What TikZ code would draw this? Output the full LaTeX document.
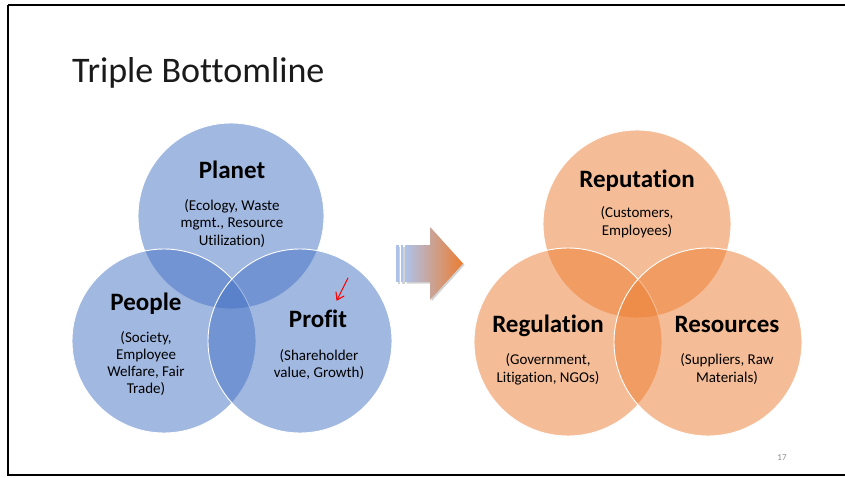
\documentclass[tikz,border=0pt]{standalone}
\usepackage{fontspec}
\setmainfont{Carlito}[Ligatures={NoCommon}]
\usetikzlibrary{shadows}
\definecolor{blueacc}{HTML}{4472C4}
\definecolor{orangeacc}{HTML}{ED7D31}
\definecolor{arrowblue}{HTML}{ADC2E8}
\definecolor{pgnum}{HTML}{8C8C8C}
\definecolor{titlecol}{HTML}{1A1A1A}
\tikzset{
  vblue/.style={fill=blueacc, fill opacity=0.5, draw=white, line width=0.9pt},
  vorange/.style={fill=orangeacc, fill opacity=0.5, draw=white, line width=0.9pt},
  headtxt/.style={font=\fontsize{25}{30}\selectfont\bfseries, anchor=base, inner sep=0pt},
  subtxt/.style={font=\fontsize{15}{18}\selectfont, anchor=base, inner sep=0pt},
}
\begin{document}
\begin{tikzpicture}[x=1pt,y=-1pt]
\useasboundingbox (0,0) rectangle (845,478);
\fill[white] (0,0) rectangle (845,478);
% slide frame
\draw[line width=2pt, black] (8,5) -- (850,5);
\draw[line width=2pt, black] (8,5) -- (8,475) -- (850,475);
% title
\node[anchor=base west, inner sep=0pt, text=titlecol, font=\fontsize{36}{43}\selectfont] (title) at (72,83) {Triple Bottomline};
% left venn
\path[vblue] (231,216) circle (93);
\path[vblue] (164,341) circle (92);
\path[vblue] (300,341) circle (92);
\node[headtxt] (planet) at (232,179) {Planet};
\node[subtxt] (pl1) at (232,211) {(Ecology, Waste};
\node[subtxt] (pl2) at (232,228) {mgmt., Resource};
\node[subtxt] (pl3) at (232,245) {Utilization)};
\node[headtxt] (people) at (146,310) {People};
\node[subtxt] (pe1) at (146,342) {(Society,};
\node[subtxt] (pe2) at (146,359) {Employee};
\node[subtxt] (pe3) at (146,376) {Welfare, Fair};
\node[subtxt] (pe4) at (146,393) {Trade)};
\node[headtxt] (profit) at (318,327) {Profit};
\node[subtxt] (pr1) at (319,360) {(Shareholder};
\node[subtxt] (pr2) at (319,377) {value, Growth)};
% red annotation arrow
\coordinate (ra) at (348,278);
\coordinate (rb) at (337,300);
\draw[red, line width=1.1pt, line cap=round] (ra) -- (rb);
\draw[red, line width=1.1pt, line cap=round, line join=round] (336,292) -- (rb) -- (344,296);
% middle arrow
\fill[arrowblue, drop shadow={opacity=0.35, shadow xshift=1.5pt, shadow yshift=-1.5pt}] (396,245) rectangle (398.5,282);
\fill[arrowblue, drop shadow={opacity=0.35, shadow xshift=1.5pt, shadow yshift=-1.5pt}] (400.5,245) rectangle (403,282);
\shade[left color=arrowblue, right color=orangeacc, drop shadow={opacity=0.35, shadow xshift=1.5pt, shadow yshift=-1.5pt}]
  (405,245) -- (430,245) -- (430,227) -- (463,263.5) -- (430,300) -- (430,282) -- (405,282) -- cycle;
% right venn
\path[vorange] (637,224) circle (94);
\path[vorange] (568,342) circle (94);
\path[vorange] (708,342) circle (94);
\node[headtxt] (reput) at (637,188) {Reputation};
\node[subtxt] (re1) at (637,218) {(Customers,};
\node[subtxt] (re2) at (637,236) {Employees)};
\node[headtxt] (regul) at (548,332) {Regulation};
\node[subtxt] (rg1) at (548,364) {(Government,};
\node[subtxt] (rg2) at (548,382) {Litigation, NGOs)};
\node[headtxt] (resou) at (727,332) {Resources};
\node[subtxt] (rs1) at (727,364) {(Suppliers, Raw};
\node[subtxt] (rs2) at (727,382) {Materials)};
% page number
\node[anchor=base, inner sep=0pt, text=pgnum, font=\fontsize{9}{11}\selectfont] (pgn) at (782,460) {17};
\end{tikzpicture}
\end{document}
